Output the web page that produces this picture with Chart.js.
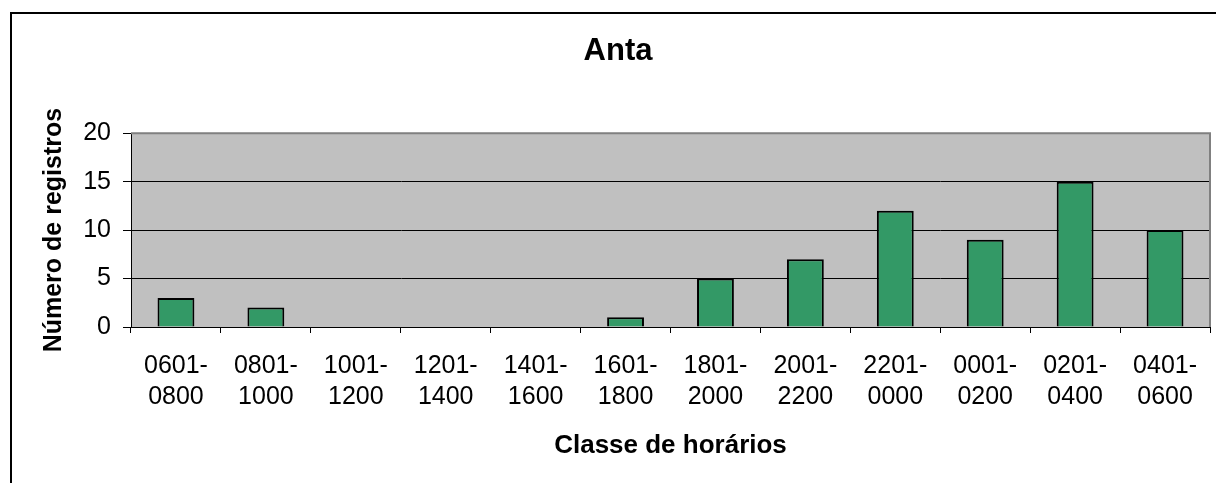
<!DOCTYPE html>
<html>
<head>
<meta charset="utf-8">
<script src="https://cdn.jsdelivr.net/npm/chart.js@4"></script>
<style>
  html, body { margin: 0; padding: 0; background: #fff; }
  canvas { display: block; }
</style>
</head>
<body>
<canvas id="chart" width="1216" height="483"></canvas>
<script>
  /* ── Data ── */
  var classStart = ['0601', '0801', '1001', '1201', '1401', '1601', '1801', '2001', '2201', '0001', '0201', '0401'];
  var classEnd   = ['0800', '1000', '1200', '1400', '1600', '1800', '2000', '2200', '0000', '0200', '0400', '0600'];
  var registros  = [3, 2, 0, 0, 0, 1, 5, 7, 12, 9, 15, 10];
  var yMin = 0, yMax = 20, yStep = 5;

  var labels = classStart.map(function (s, i) { return [s + '-', classEnd[i]]; });
  var FONT = "'Liberation Sans', Arial, sans-serif";

  /* ── Frame + grey plot background ── */
  var plotBackground = {
    id: 'plotBackground',
    beforeDraw: function (chart) {
      var ctx = chart.ctx, a = chart.chartArea;
      ctx.save();
      ctx.fillStyle = '#ffffff';
      ctx.fillRect(0, 0, chart.width, chart.height);
      ctx.strokeStyle = '#000000';
      ctx.lineWidth = 2;
      ctx.strokeRect(11, 13, 1400, 700);
      ctx.fillStyle = '#c0c0c0';
      ctx.fillRect(a.left, a.top, a.right - a.left, a.bottom - a.top);
      ctx.restore();
    },
    afterDraw: function (chart) {
      var ctx = chart.ctx, a = chart.chartArea;
      ctx.save();
      ctx.strokeStyle = '#808080';
      ctx.lineWidth = 2;
      ctx.beginPath();
      ctx.moveTo(a.left, a.top);
      ctx.lineTo(a.right, a.top);
      ctx.lineTo(a.right, a.bottom);
      ctx.stroke();
      ctx.restore();
    }
  };

  Chart.defaults.font.family = FONT;
  Chart.defaults.color = '#000000';

  new Chart(document.getElementById('chart'), {
    type: 'bar',
    data: {
      labels: labels,
      datasets: [{
        data: registros,
        backgroundColor: '#339966',
        borderColor: '#000000',
        borderWidth: 2,
        categoryPercentage: 1,
        barPercentage: 0.41
      }]
    },
    options: {
      responsive: false,
      animation: false,
      // left padding shifts the centred title to the frame's middle
      layout: { padding: { left: 26, right: 6, top: 0, bottom: 0 } },
      plugins: {
        legend: { display: false },
        tooltip: { enabled: false },
        title: {
          display: true,
          text: 'Anta',
          color: '#000000',
          font: { size: 31, weight: 'bold', lineHeight: 1.2 },
          padding: { top: 33, bottom: 63 }
        }
      },
      scales: {
        x: {
          offset: true,
          grid: {
            display: true,
            offset: true,
            drawOnChartArea: false,
            drawTicks: true,
            tickLength: 6,
            color: '#000000'
          },
          border: { display: true, color: '#000000', width: 1 },
          ticks: {
            color: '#000000',
            font: { size: 25, lineHeight: 1.22 },
            padding: 18,
            maxRotation: 0,
            autoSkip: false
          },
          title: {
            display: true,
            text: 'Classe de horários',
            color: '#000000',
            font: { size: 26, weight: 'bold', lineHeight: 1.2 },
            padding: { top: 0, bottom: 22 }
          },
          afterFit: function (scale) { scale.height = 156; }
        },
        y: {
          min: yMin,
          max: yMax,
          grid: {
            drawTicks: true,
            tickLength: 8,
            lineWidth: 1,
            color: function (c) {
              return c.tick && c.tick.value === yMax ? '#808080' : '#000000';
            },
            tickColor: '#000000'
          },
          border: { display: true, color: '#000000', width: 1 },
          ticks: {
            stepSize: yStep,
            color: '#000000',
            font: { size: 25, lineHeight: 1.2 },
            padding: 12
          },
          title: {
            display: true,
            text: 'Número de registros',
            color: '#000000',
            font: { size: 25, weight: 'bold', lineHeight: 1.2 },
            padding: { top: 13, bottom: 0 }
          },
          afterFit: function (scale) { scale.width = 105; }
        }
      }
    },
    plugins: [plotBackground]
  });
</script>
</body>
</html>
